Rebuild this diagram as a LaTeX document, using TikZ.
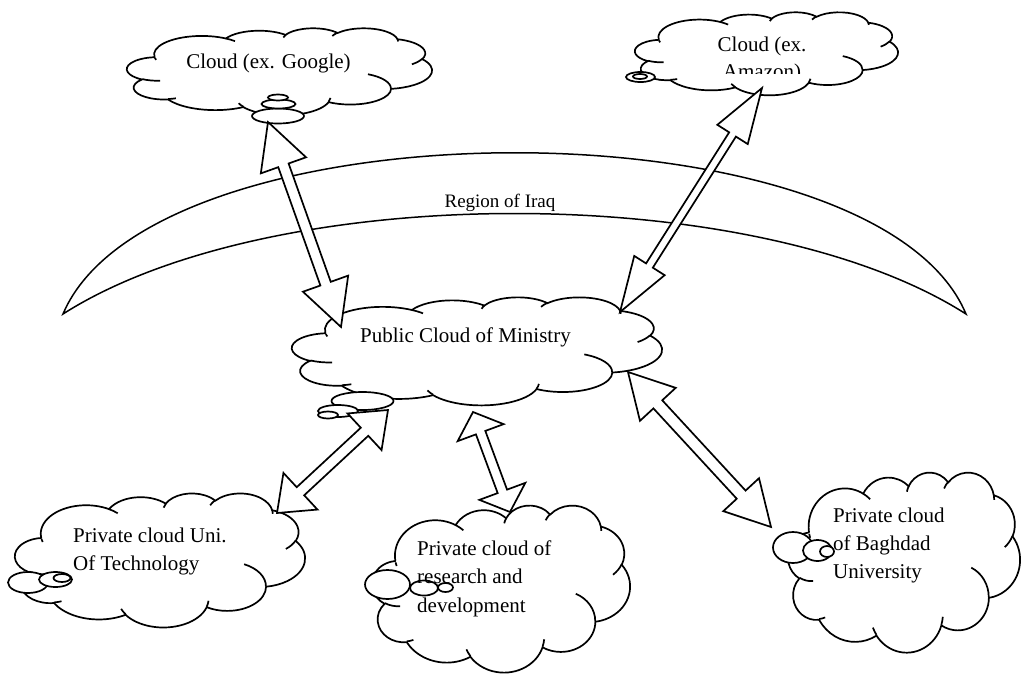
\documentclass[tikz,border=0pt]{standalone}
\usepackage{fontspec}
\setmainfont{Liberation Serif}
\usetikzlibrary{calc}
% elliptical arc in OOXML (y-down) parametric angles, radii in shape units
\newcommand\carc[4]{arc[x radius={#1*\cwx*1pt}, y radius={#2*\cwy*1pt}, start angle={-(#3)}, end angle={-(#4)}]}
% Word cloud outline in a box (x0,y0) W x H
\newcommand\wcloud[4]{%
  \pgfmathsetmacro\cwx{#3/43.2}\pgfmathsetmacro\cwy{#4/43.2}%
  \begin{scope}[shift={(#1,#2)}, x=\cwx pt, y=-\cwy pt]
    \draw[cloudline, fill=white] (3.900,14.370)
      \carc{6.753}{9.190}{-187.75}{-59.64}
      \carc{5.333}{7.267}{-152.02}{-45.43}
      \carc{4.365}{5.945}{-153.48}{-37.32}
      \carc{4.857}{6.595}{-139.71}{-10.21}
      \carc{5.333}{7.273}{-74.77}{23.21}
      \carc{6.775}{9.220}{-37.52}{81.86}
      \carc{5.785}{7.867}{0.46}{121.97}
      \carc{6.752}{9.215}{16.84}{146.24}
      \carc{7.720}{10.543}{58.99}{150.19}
      \carc{4.360}{5.918}{-276.69}{-136.90}
      \carc{4.345}{5.945}{-239.64}{-95.89} -- cycle;
    \draw[cloudline]
      (4.693,26.177) \carc{4.345}{5.945}{85.55}{120.36}
      (6.928,34.899) \carc{4.360}{5.918}{68.23}{83.31}
      (16.478,39.090) \carc{6.752}{9.215}{146.24}{158.47}
      (28.827,34.751) \carc{6.752}{9.215}{4.74}{16.84}
      (34.129,22.954) \carc{5.785}{7.867}{-64.03}{0.46}
      (41.798,15.354) \carc{5.333}{7.273}{23.21}{49.64}
      (38.324,5.426) \carc{4.857}{6.595}{-10.21}{0.82}
      (29.078,3.952) \carc{4.857}{6.595}{-156.28}{-139.71}
      (22.141,4.720) \carc{4.365}{5.945}{-167.73}{-153.48}
      (14.000,5.192) \carc{6.753}{9.190}{-59.64}{-45.74}
      (4.127,15.789) \carc{6.753}{9.190}{162.42}{168.55};
  \end{scope}}
% hollow double-headed block arrow between two named coordinates
\newcommand\barrow[5]{%
  \draw[blockarrow] (#1)
    -- ($(#1)!#3!(#2)!#4!90:(#2)$)
    -- ($(#1)!#3!(#2)!#5!90:(#2)$)
    -- ($(#2)!#3!(#1)!#5!-90:(#1)$)
    -- ($(#2)!#3!(#1)!#4!-90:(#1)$)
    -- (#2)
    -- ($(#2)!#3!(#1)!#4!90:(#1)$)
    -- ($(#2)!#3!(#1)!#5!90:(#1)$)
    -- ($(#1)!#3!(#2)!#5!-90:(#2)$)
    -- ($(#1)!#3!(#2)!#4!-90:(#2)$)
    -- cycle;}
\tikzset{
  cloudline/.style={line width=1.7pt},
  blockarrow/.style={draw, fill=white, line width=1.7pt, line join=miter},
  bubble/.style={draw, fill=white, line width=1.7pt},
  txt/.style={inner sep=0pt, font=\fontsize{21}{25}\selectfont},
  box/.style={inner sep=0pt, outer sep=0pt}
}
\begin{document}
\begin{tikzpicture}[x=1pt, y=-1pt]
\useasboundingbox[fill=white] (0,0) rectangle (1021,673);

% region crescent
\draw[line width=1.5pt] (63,314) .. controls (154,99) and (876,99) .. (966,314)
      .. controls (756,180) and (273,180) .. (63,314) -- cycle;
\node[inner sep=0pt, anchor=base, font=\fontsize{19}{22}\selectfont] (region) at (500,207) {Region of Iraq};

% cloud boxes (names)
\node[box, minimum width=305pt, minimum height=87pt, anchor=north west] (google) at (127,28) {};
\node[box, minimum width=263pt, minimum height=83pt, anchor=north west] (amazon) at (635,12) {};
\node[box, minimum width=370pt, minimum height=108pt, anchor=north west] (public) at (292,297) {};
\node[box, minimum width=290pt, minimum height=134pt, anchor=north west] (unitech) at (15,493) {};
\node[box, minimum width=258pt, minimum height=167pt, anchor=north west] (rnd) at (372,505) {};
\node[box, minimum width=232pt, minimum height=180pt, anchor=north west] (baghdad) at (788,472) {};

% Google cloud
\wcloud{127}{28}{305}{87}
\draw[bubble] (278,116) ellipse [x radius=26pt, y radius=7.5pt];
\draw[bubble] (278.5,104) ellipse [x radius=17pt, y radius=4.5pt];
\draw[bubble] (278,97.5) ellipse [x radius=10pt, y radius=3pt];
\node[txt, anchor=base] (gtext) at (268.5,68) {Cloud (ex. Google)};

% Amazon cloud
\draw[bubble] (665,72) ellipse [x radius=16pt, y radius=8pt];
\wcloud{635}{12}{263}{83}
\draw[bubble] (640.5,77) ellipse [x radius=14.5pt, y radius=5pt];
\draw[bubble] (640,76.5) ellipse [x radius=7pt, y radius=2.5pt];
\node[txt, anchor=base] (atext1) at (762,51) {Cloud (ex.};
\begin{scope}
  \clip (690,55) rectangle (840,73);
  \node[txt, anchor=base] (atext2) at (762,78) {Amazon)};
\end{scope}

% Public cloud
\wcloud{292}{297}{370}{108}
\draw[bubble] (362.5,401) ellipse [x radius=31pt, y radius=9pt];
\draw[bubble] (338,411) ellipse [x radius=20pt, y radius=6pt];
\draw[bubble] (328,415) ellipse [x radius=10pt, y radius=3.5pt];
\node[txt, anchor=base] (ptext) at (465.5,342) {Public Cloud of Ministry};

% University of Technology cloud
\wcloud{15}{493}{290}{134}
\draw[bubble] (28,582.5) ellipse [x radius=20pt, y radius=10.5pt];
\draw[bubble] (55.5,579.5) ellipse [x radius=16.5pt, y radius=7.5pt];
\draw[bubble] (62,578) ellipse [x radius=8.5pt, y radius=4pt];
\node[txt, anchor=base west] (utext1) at (73,542) {Private cloud Uni.};
\node[txt, anchor=base west] (utext2) at (73,570) {Of Technology};

% Research and development cloud
\wcloud{372}{505}{258}{167}
\draw[bubble] (387.5,584.5) ellipse [x radius=22.5pt, y radius=14.5pt];
\draw[bubble] (424,588) ellipse [x radius=14pt, y radius=7.5pt];
\draw[bubble] (445.5,587.5) ellipse [x radius=7.5pt, y radius=4.5pt];
\node[txt, anchor=base west] (rtext1) at (417,555) {Private cloud of};
\node[txt, anchor=base west] (rtext2) at (417,583.5) {research and};
\node[txt, anchor=base west] (rtext3) at (417,612) {development};

% Baghdad University cloud
\wcloud{788}{472}{232}{180}
\draw[bubble] (793,547.5) ellipse [x radius=20pt, y radius=15.5pt];
\draw[bubble] (817.5,550.5) ellipse [x radius=14.5pt, y radius=10.5pt];
\draw[bubble] (827,551.5) ellipse [x radius=7pt, y radius=5.5pt];
\node[txt, anchor=base west] (btext1) at (833,522) {Private cloud};
\node[txt, anchor=base west] (btext2) at (833,550) {of Baghdad};
\node[txt, anchor=base west] (btext3) at (833,578) {University};

% arrow end points
\coordinate (g-end) at (268,122);   \coordinate (g-pub) at (341,327);
\coordinate (a-end) at (762,88);    \coordinate (a-pub) at (620,312);
\coordinate (u-pub) at (388,410);   \coordinate (u-end) at (277,513);
\coordinate (r-pub) at (473,412);   \coordinate (r-end) at (510,512);
\coordinate (b-pub) at (628,372);   \coordinate (b-end) at (771,527);

\barrow{g-end}{g-pub}{46pt}{24pt}{5.5pt}
\barrow{a-end}{a-pub}{55pt}{18pt}{4pt}
\barrow{u-pub}{u-end}{32pt}{25pt}{5.5pt}
\barrow{r-pub}{r-end}{22pt}{24.5pt}{5pt}
\barrow{b-pub}{b-end}{44pt}{24.3pt}{6pt}
\end{tikzpicture}
\end{document}
